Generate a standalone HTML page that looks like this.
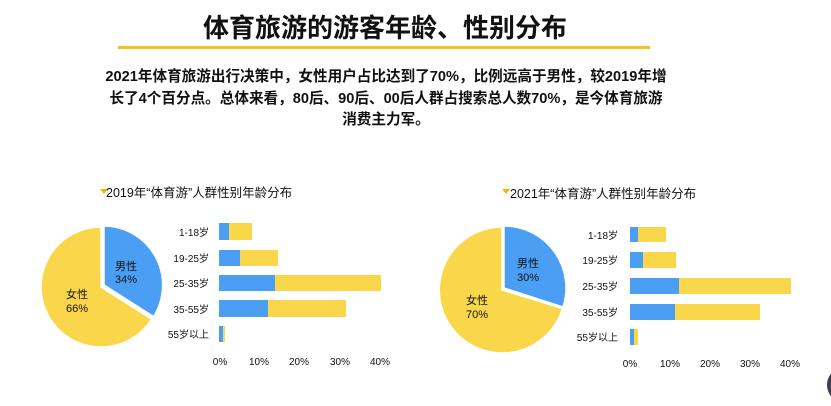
<!DOCTYPE html>
<html><head><meta charset="utf-8"><style>
body{margin:0;width:831px;height:406px;background:#fff;overflow:hidden;font-family:"Liberation Sans","Noto Sans CJK SC",sans-serif;position:relative}
.t{position:absolute;left:0;width:770px;text-align:center;top:8px;font-size:26px;font-weight:bold;color:#111}
.line{position:absolute;left:118px;top:46px;width:532px;height:3px;background:#f2c21b}
.p{position:absolute;left:41px;width:690px;top:67px;text-align:center;font-size:14.6px;font-weight:bold;line-height:21.5px;color:#111;white-space:nowrap}
</style></head><body>
<div class="t">体育旅游的游客年龄、性别分布</div>
<div class="line"></div>
<div class="p">2021年体育旅游出行决策中，女性用户占比达到了70%，比例远高于男性，较2019年增<br>长了4个百分点。总体来看，80后、90后、00后人群占搜索总人数70%，是今体育旅游<br>消费主力军。</div>
<svg width="831" height="406" style="position:absolute;left:0;top:0" font-family="Liberation Sans,Noto Sans CJK SC,sans-serif">
<g font-size="12.5" fill="#111">
<path d="M100 189 L108 189 L104 194Z" fill="#f2b400"/>
<text x="106" y="197">2019年“体育游”人群性别年龄分布</text>
<path d="M502 189 L510 189 L506 194Z" fill="#f2b400"/>
<text x="510" y="198">2021年“体育游”人群性别年龄分布</text>
</g>
<path d="M101 287 L101 227 A60 60 0 1 0 151.6 319.3 Z" fill="#f9d64a" stroke="#fff" stroke-width="1.5"/>
<path d="M104 285 L104 226 A59 59 0 0 1 153.5 316.5 Z" fill="#4a9ff5" stroke="#fff" stroke-width="1.5"/>
<path d="M502 290 L502 227 A63 63 0 1 0 562.5 308.5 Z" fill="#f9d64a" stroke="#fff" stroke-width="1.5"/>
<path d="M504 288 L504 226 A62 62 0 0 1 563 307 Z" fill="#4a9ff5" stroke="#fff" stroke-width="1.5"/>
<g font-size="11" fill="#111" text-anchor="middle">
<text x="126" y="270">男性</text><text x="126" y="283">34%</text>
<text x="77" y="298">女性</text><text x="77" y="312">66%</text>
<text x="528" y="267">男性</text><text x="528" y="281">30%</text>
<text x="477" y="304">女性</text><text x="477" y="318">70%</text>
</g>
<g>
<rect x="219" y="223" width="10" height="17" fill="#4a9ff5"/><rect x="229" y="223" width="23" height="17" fill="#f9d64a"/>
<rect x="219" y="250" width="21" height="16" fill="#4a9ff5"/><rect x="240" y="250" width="38" height="16" fill="#f9d64a"/>
<rect x="219" y="275" width="56" height="16" fill="#4a9ff5"/><rect x="275" y="275" width="106" height="16" fill="#f9d64a"/>
<rect x="219" y="300" width="49" height="17" fill="#4a9ff5"/><rect x="268" y="300" width="78" height="17" fill="#f9d64a"/>
<rect x="219" y="326" width="4" height="16" fill="#4a9ff5"/><rect x="223" y="326" width="2" height="16" fill="#f9d64a"/>
<rect x="630" y="227" width="8" height="15" fill="#4a9ff5"/><rect x="638" y="227" width="28" height="15" fill="#f9d64a"/>
<rect x="630" y="252" width="13" height="16" fill="#4a9ff5"/><rect x="643" y="252" width="33" height="16" fill="#f9d64a"/>
<rect x="630" y="278" width="49" height="16" fill="#4a9ff5"/><rect x="679" y="278" width="112" height="16" fill="#f9d64a"/>
<rect x="630" y="304" width="45" height="16" fill="#4a9ff5"/><rect x="675" y="304" width="85" height="16" fill="#f9d64a"/>
<rect x="630" y="329" width="4" height="16" fill="#4a9ff5"/><rect x="634" y="329" width="4" height="16" fill="#f9d64a"/>
</g>
<g font-size="10" fill="#111" text-anchor="end">
<text x="209" y="236">1-18岁</text><text x="209" y="262">19-25岁</text><text x="209" y="287">25-35岁</text><text x="209" y="313">35-55岁</text><text x="209" y="338">55岁以上</text>
<text x="618" y="239">1-18岁</text><text x="618" y="264">19-25岁</text><text x="618" y="290">25-35岁</text><text x="618" y="316">35-55岁</text><text x="618" y="341">55岁以上</text>
</g>
<g font-size="10" fill="#111" text-anchor="middle">
<text x="220" y="365">0%</text><text x="259" y="365">10%</text><text x="299" y="365">20%</text><text x="340" y="365">30%</text><text x="380" y="365">40%</text>
<text x="630" y="367">0%</text><text x="670" y="367">10%</text><text x="710" y="367">20%</text><text x="750" y="367">30%</text><text x="790" y="367">40%</text>
</g>
<circle cx="845" cy="385" r="18" fill="#3a3f48"/>
</svg>
</body></html>
